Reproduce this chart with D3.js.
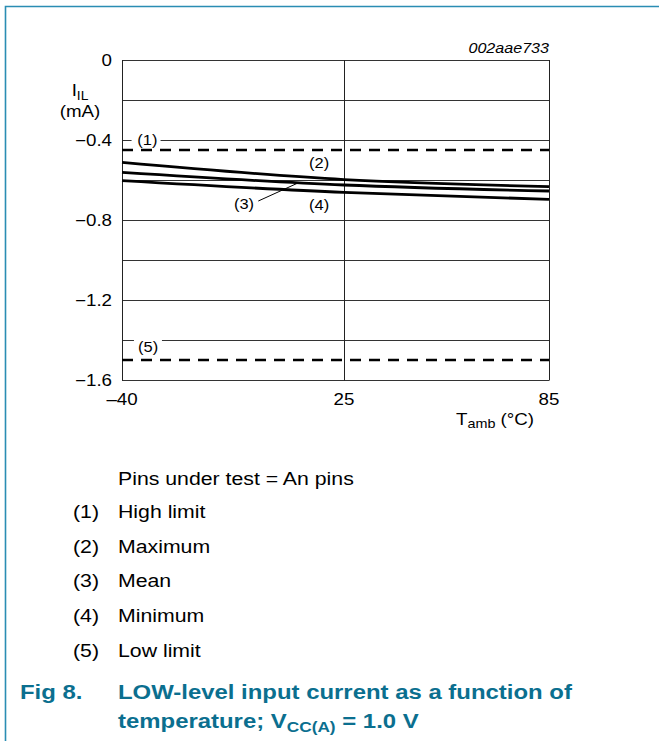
<!DOCTYPE html>
<html>
<head>
<meta charset="utf-8">
<script src="https://cdn.jsdelivr.net/npm/d3@7"></script>
<style>
  body { margin: 0; background: #fff; }
  text { font-family: "Liberation Sans", Arial, sans-serif; fill: #000; }
</style>
</head>
<body>
<script>
// ---- data ----
const temps = [-40, 25, 85];                    // T amb (°C)
const maxVals = [-0.512, -0.598, -0.633];      // (2) Maximum
const meanVals = [-0.562, -0.625, -0.655];     // (3) Mean
const minVals = [-0.603, -0.662, -0.697];      // (4) Minimum
const highLimit = -0.45;                       // (1)
const lowLimit = -1.5;                         // (5)
const yTickVals = [0, -0.4, -0.8, -1.2, -1.6];
const yGridVals = [0, -0.2, -0.4, -0.6, -0.8, -1.0, -1.2, -1.4, -1.6];
const xTickVals = [-40, 25, 85];
const legendNums = ["(1)", "(2)", "(3)", "(4)", "(5)"];
const legendNames = ["High limit", "Maximum", "Mean", "Minimum", "Low limit"];

var W = 659, H = 741;
var sx = 1.15; // text in the reference is a bit wider than Arial

var svg = d3.select("body").append("svg")
	.attr("width", W)
	.attr("height", H);

// frame
svg.append("path")
	.attr("d", "M5.5," + (H + 5) + " V6.5 H" + (W + 5))
	.attr("fill", "none")
	.attr("stroke", "#2a8db3")
	.attr("stroke-width", 1.6);

var x = d3.scaleLinear().domain([-40, 85]).range([122, 549]);
var y = d3.scaleLinear().domain([0, -1.6]).range([60, 380]);

// helper for stretched text
function txt(parent, px, py, str, size, anchor) {
	return parent.append("text")
		.attr("transform", "translate(" + px + "," + py + ") scale(" + sx + ",1)")
		.attr("text-anchor", anchor || "start")
		.style("font-size", size + "px")
		.text(str);
}

var g = svg.append("g");

// horizontal grid
g.selectAll(".hgrid").data(yGridVals).enter().append("line")
	.attr("x1", x(-40)).attr("x2", x(85))
	.attr("y1", d => y(d) + 0.5).attr("y2", d => y(d) + 0.5)
	.attr("stroke", "#333").attr("stroke-width", 1);

// vertical grid
g.selectAll(".vgrid").data(xTickVals).enter().append("line")
	.attr("x1", d => Math.round(x(d)) + 0.5).attr("x2", d => Math.round(x(d)) + 0.5)
	.attr("y1", y(0)).attr("y2", y(-1.6) + 0.5)
	.attr("stroke", "#222").attr("stroke-width", 1);

// limit lines
[highLimit, lowLimit].forEach(v => {
	g.append("line")
		.attr("x1", x(-40)).attr("x2", x(85))
		.attr("y1", y(v)).attr("y2", y(v))
		.attr("stroke", "#000").attr("stroke-width", 2.6)
		.attr("stroke-dasharray", "11,8");
});

// curves
var line = d3.line()
	.x((d, i) => x(temps[i]))
	.y(d => y(d))
	.curve(d3.curveMonotoneX);

[maxVals, meanVals, minVals].forEach(s => {
	g.append("path")
		.attr("d", line(s))
		.attr("fill", "none")
		.attr("stroke", "#000")
		.attr("stroke-width", 2.8);
});

// curve labels (data space positions)
var labelFont = 14.3;
// (1) sits on the -0.4 gridline, which is broken around it
g.append("rect").attr("x", x(-37.2)).attr("y", y(-0.4) - 3).attr("width", 29).attr("height", 6).attr("fill", "#fff");
txt(g, x(-35.5), y(-0.4) + 5, "(1)", labelFont);
// (5) hangs under the -1.4 gridline
g.append("rect").attr("x", x(-36.5)).attr("y", y(-1.4) - 2).attr("width", 28).attr("height", 4).attr("fill", "#fff");
txt(g, x(-35.3), y(-1.4) + 12, "(5)", labelFont);
txt(g, x(17.7), y(-0.515) + 5, "(2)", labelFont, "middle");
txt(g, x(-4.3), y(-0.72) + 5, "(3)", labelFont, "middle");
txt(g, x(17.7), y(-0.725) + 5, "(4)", labelFont, "middle");
// leader for (3)
g.append("line")
	.attr("x1", x(-0.1)).attr("y1", y(-0.705))
	.attr("x2", x(11.5)).attr("y2", y(-0.615))
	.attr("stroke", "#000").attr("stroke-width", 1);

// y tick labels
yTickVals.forEach(v => {
	txt(g, 112, y(v) + 6, d3.format(".1f")(v).replace("-", "\u2013").replace(/^0\.0$/, "0"), 16.3, "end");
});
// x tick labels
xTickVals.forEach(v => {
	txt(g, x(v), 405, String(v).replace("-", "\u2013"), 16.3, "middle");
});

// y axis title
var yt = g.append("text")
	.attr("transform", "translate(80,96) scale(" + sx + ",1)")
	.attr("text-anchor", "middle")
	.style("font-size", "16.3px");
yt.append("tspan").text("I");
yt.append("tspan").attr("dy", 4).style("font-size", "12px").text("IL");
txt(g, 80, 117, "(mA)", 16.3, "middle");

// x axis title
var xt = g.append("text")
	.attr("transform", "translate(456,425) scale(" + sx + ",1)")
	.style("font-size", "16.3px");
xt.append("tspan").text("T");
xt.append("tspan").attr("dy", 3).style("font-size", "12.5px").text("amb");
xt.append("tspan").attr("dy", -3).text(" (\u00B0C)");

// figure code
txt(g, 549, 53, "002aae733", 14, "end").style("font-style", "italic");

// notes
var legendFont = 18.5;
txt(svg, 118, 485, "Pins under test = An pins", legendFont);
legendNums.forEach((n, i) => {
	var by = 518 + i * 34.7;
	txt(svg, 73, by, n, legendFont);
	txt(svg, 118, by, legendNames[i], legendFont);
});

// caption
var capColor = "#0b6f8f";
txt(svg, 20, 699, "Fig 8.", 20.8).style("font-weight", "bold").style("fill", capColor);
txt(svg, 118, 699, "LOW-level input current as a function of", 20.8).style("font-weight", "bold").style("fill", capColor);
var cap2 = svg.append("text")
	.attr("transform", "translate(118,728) scale(" + sx + ",1)")
	.style("font-size", "20.8px").style("font-weight", "bold").style("fill", capColor);
cap2.append("tspan").text("temperature; V");
cap2.append("tspan").attr("dy", 4).style("font-size", "15px").text("CC(A)");
cap2.append("tspan").attr("dy", -4).text(" = 1.0 V");
</script>
</body>
</html>
